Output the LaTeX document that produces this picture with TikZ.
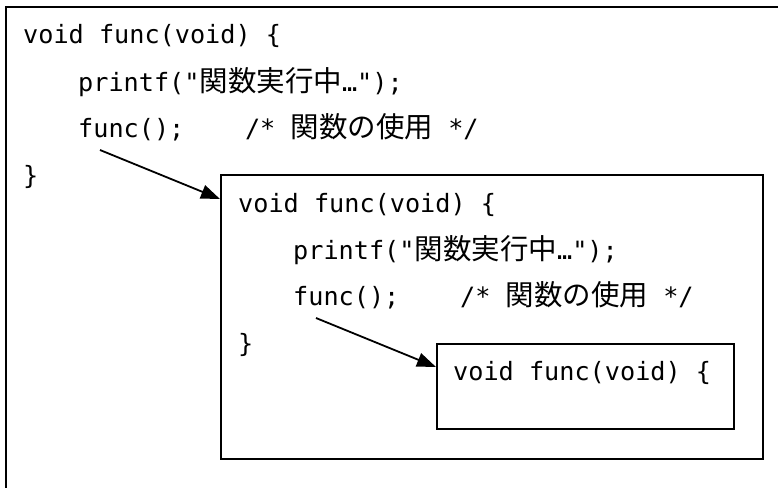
\documentclass[tikz,border=0pt]{standalone}
\usepackage{fontspec}
\usetikzlibrary{arrows.meta}
\newfontfamily\codefam{DejaVu Sans Mono}
\newfontfamily\jpfam{Noto Sans CJK JP}
\newcommand\codefont{\fontsize{25.2}{30}\codefam}
\newcommand\jtext[1]{{\fontsize{28.5}{30}\jpfam #1}}
\tikzset{
  frame/.style={draw=black, line width=1.8pt, rectangle, anchor=north west, inner sep=0pt},
  code/.style={anchor=base west, inner sep=0pt, font=\codefont, text=black},
  arr/.style={line width=1.8pt, -{Triangle[length=19pt,width=14pt]}},
}
\begin{document}
\begin{tikzpicture}[x=1pt, y=-1pt]
\useasboundingbox (0,0) rectangle (778,487);
\clip (0,0) rectangle (778,487);

% outermost call level (runs past the page edge on the right and bottom)
\node[frame, minimum width=820pt, minimum height=520pt] (outer) at (5,6) {};
\node[code] (o1) at (23,44)  {void func(void) \{};
\node[code] (o2) at (78,91)  {printf("\jtext{関数実行中}…");};
\node[code] (o3) at (78,137) {func();\ \ \ \ /*\ \jtext{関数の使用}\ */};
\node[code] (o4) at (23,184) {\}};

% second call level
\node[frame, minimum width=542pt, minimum height=284pt] (mid) at (220,174) {};
\node[code] (m1) at (238,212) {void func(void) \{};
\node[code] (m2) at (293,259) {printf("\jtext{関数実行中}…");};
\node[code] (m3) at (293,305) {func();\ \ \ \ /*\ \jtext{関数の使用}\ */};
\node[code] (m4) at (238,352) {\}};

% third call level
\node[frame, minimum width=297pt, minimum height=85pt] (inner) at (436,343) {};
\node[code] (i1) at (453,380) {void func(void) \{};

% recursive calls
\coordinate (s1) at (100,150);
\coordinate (s2) at (316,318);
\draw[arr] (s1) -- ([yshift=-25pt]mid.north west);
\draw[arr] (s2) -- ([yshift=-24pt]inner.north west);
\end{tikzpicture}
\end{document}
